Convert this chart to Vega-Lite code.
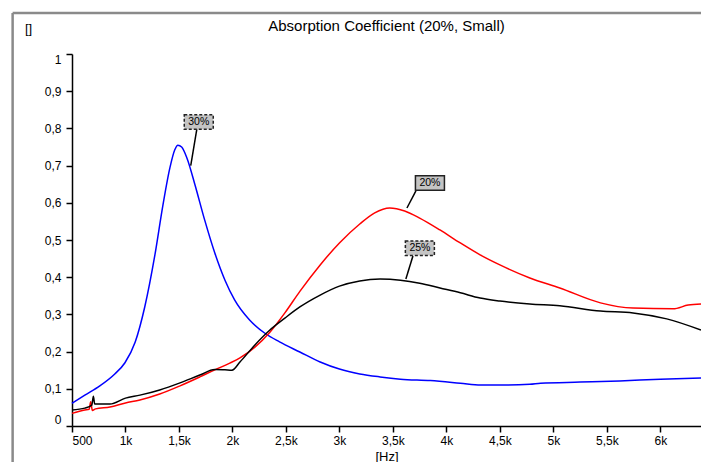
{
  "$schema": "https://vega.github.io/schema/vega-lite/v6.json",
  "width": 629,
  "height": 372,
  "autosize": "none",
  "padding": {"left": 72, "top": 54, "right": 0, "bottom": 36},
  "background": "white",
  "title": {"text": "Absorption Coefficient (20%, Small)", "font": "Liberation Sans", "fontSize": 15, "fontWeight": "normal", "color": "#000000", "anchor": "middle", "offset": -22},
  "config": {
    "view": {"stroke": null},
    "axis": {"domainColor": "#000000", "domainWidth": 1.5, "tickColor": "#000000", "tickWidth": 1.5, "tickSize": 6, "labelFont": "Liberation Sans", "labelFontSize": 12, "labelColor": "#000000", "labelOverlap": false, "grid": false, "titleFont": "Liberation Sans", "titleFontSize": 13, "titleFontWeight": "normal", "titleColor": "#000000"}
  },
  "datasets": {
    "curves": [
      {"s": "30%", "f": 500, "v": 0.061}, {"s": "30%", "f": 620, "v": 0.083}, {"s": "30%", "f": 760, "v": 0.108}, {"s": "30%", "f": 900, "v": 0.140}, {"s": "30%", "f": 995, "v": 0.170}, {"s": "30%", "f": 1090, "v": 0.225}, {"s": "30%", "f": 1180, "v": 0.320}, {"s": "30%", "f": 1275, "v": 0.460}, {"s": "30%", "f": 1350, "v": 0.594}, {"s": "30%", "f": 1415, "v": 0.694}, {"s": "30%", "f": 1460, "v": 0.742}, {"s": "30%", "f": 1490, "v": 0.755}, {"s": "30%", "f": 1525, "v": 0.750}, {"s": "30%", "f": 1575, "v": 0.720}, {"s": "30%", "f": 1650, "v": 0.648}, {"s": "30%", "f": 1740, "v": 0.554}, {"s": "30%", "f": 1835, "v": 0.465}, {"s": "30%", "f": 1930, "v": 0.392}, {"s": "30%", "f": 2020, "v": 0.339}, {"s": "30%", "f": 2160, "v": 0.285}, {"s": "30%", "f": 2300, "v": 0.250}, {"s": "30%", "f": 2440, "v": 0.226}, {"s": "30%", "f": 2630, "v": 0.199}, {"s": "30%", "f": 2820, "v": 0.172}, {"s": "30%", "f": 3000, "v": 0.153}, {"s": "30%", "f": 3190, "v": 0.140}, {"s": "30%", "f": 3380, "v": 0.132}, {"s": "30%", "f": 3570, "v": 0.126}, {"s": "30%", "f": 3850, "v": 0.122}, {"s": "30%", "f": 4130, "v": 0.115}, {"s": "30%", "f": 4320, "v": 0.110}, {"s": "30%", "f": 4500, "v": 0.110}, {"s": "30%", "f": 4780, "v": 0.112}, {"s": "30%", "f": 4880, "v": 0.115}, {"s": "30%", "f": 5250, "v": 0.118}, {"s": "30%", "f": 5620, "v": 0.121}, {"s": "30%", "f": 6000, "v": 0.126}, {"s": "30%", "f": 6380, "v": 0.129},

      {"s": "20%", "f": 500, "v": 0.034}, {"s": "20%", "f": 620, "v": 0.043}, {"s": "20%", "f": 660, "v": 0.045}, {"s": "20%", "f": 675, "v": 0.065}, {"s": "20%", "f": 690, "v": 0.042}, {"s": "20%", "f": 720, "v": 0.046}, {"s": "20%", "f": 855, "v": 0.051}, {"s": "20%", "f": 1000, "v": 0.062}, {"s": "20%", "f": 1135, "v": 0.070}, {"s": "20%", "f": 1320, "v": 0.086}, {"s": "20%", "f": 1510, "v": 0.108}, {"s": "20%", "f": 1695, "v": 0.132}, {"s": "20%", "f": 1835, "v": 0.151}, {"s": "20%", "f": 1975, "v": 0.169}, {"s": "20%", "f": 2070, "v": 0.183}, {"s": "20%", "f": 2210, "v": 0.212}, {"s": "20%", "f": 2350, "v": 0.252}, {"s": "20%", "f": 2490, "v": 0.304}, {"s": "20%", "f": 2630, "v": 0.362}, {"s": "20%", "f": 2820, "v": 0.433}, {"s": "20%", "f": 3000, "v": 0.492}, {"s": "20%", "f": 3190, "v": 0.543}, {"s": "20%", "f": 3330, "v": 0.573}, {"s": "20%", "f": 3470, "v": 0.586}, {"s": "20%", "f": 3610, "v": 0.578}, {"s": "20%", "f": 3750, "v": 0.559}, {"s": "20%", "f": 3940, "v": 0.527}, {"s": "20%", "f": 4130, "v": 0.492}, {"s": "20%", "f": 4315, "v": 0.460}, {"s": "20%", "f": 4500, "v": 0.433}, {"s": "20%", "f": 4780, "v": 0.398}, {"s": "20%", "f": 5060, "v": 0.371}, {"s": "20%", "f": 5440, "v": 0.331}, {"s": "20%", "f": 5745, "v": 0.317}, {"s": "20%", "f": 6120, "v": 0.315}, {"s": "20%", "f": 6260, "v": 0.325}, {"s": "20%", "f": 6380, "v": 0.328},

      {"s": "25%", "f": 500, "v": 0.043}, {"s": "25%", "f": 620, "v": 0.048}, {"s": "25%", "f": 685, "v": 0.056}, {"s": "25%", "f": 700, "v": 0.080}, {"s": "25%", "f": 712, "v": 0.059}, {"s": "25%", "f": 855, "v": 0.059}, {"s": "25%", "f": 1000, "v": 0.075}, {"s": "25%", "f": 1135, "v": 0.083}, {"s": "25%", "f": 1320, "v": 0.097}, {"s": "25%", "f": 1510, "v": 0.116}, {"s": "25%", "f": 1695, "v": 0.137}, {"s": "25%", "f": 1835, "v": 0.152}, {"s": "25%", "f": 1930, "v": 0.151}, {"s": "25%", "f": 1995, "v": 0.150}, {"s": "25%", "f": 2070, "v": 0.172}, {"s": "25%", "f": 2210, "v": 0.218}, {"s": "25%", "f": 2350, "v": 0.258}, {"s": "25%", "f": 2490, "v": 0.290}, {"s": "25%", "f": 2630, "v": 0.320}, {"s": "25%", "f": 2820, "v": 0.352}, {"s": "25%", "f": 3000, "v": 0.376}, {"s": "25%", "f": 3190, "v": 0.390}, {"s": "25%", "f": 3380, "v": 0.395}, {"s": "25%", "f": 3570, "v": 0.392}, {"s": "25%", "f": 3750, "v": 0.384}, {"s": "25%", "f": 3940, "v": 0.371}, {"s": "25%", "f": 4130, "v": 0.358}, {"s": "25%", "f": 4315, "v": 0.344}, {"s": "25%", "f": 4500, "v": 0.336}, {"s": "25%", "f": 4780, "v": 0.328}, {"s": "25%", "f": 5060, "v": 0.323}, {"s": "25%", "f": 5440, "v": 0.309}, {"s": "25%", "f": 5745, "v": 0.304}, {"s": "25%", "f": 6060, "v": 0.288}, {"s": "25%", "f": 6380, "v": 0.258}
    ],
    "labels": [
      {"s": "30%", "lx": 1685, "ly": 0.817, "ax": 1610, "ay": 0.700, "bx": 1667, "by": 0.798},
      {"s": "20%", "lx": 3846, "ly": 0.653, "ax": 3631, "ay": 0.586, "bx": 3715, "by": 0.632},
      {"s": "25%", "lx": 3752, "ly": 0.478, "ax": 3621, "ay": 0.395, "bx": 3687, "by": 0.457}
    ],
    "frame": [{"x0": -55, "x1": 6380, "ytop": 1.11, "ybot": -0.1}]
  },
  "layer": [
    {
      "data": {"name": "curves"},
      "mark": {"type": "line", "strokeWidth": 1.5, "interpolate": "monotone"},
      "encoding": {
        "x": {"field": "f", "type": "quantitative", "scale": {"domain": [500, 6380], "nice": false, "zero": false},
          "axis": {"values": [500, 1000, 1500, 2000, 2500, 3000, 3500, 4000, 4500, 5000, 5500, 6000], "tickCount": 20, "labelExpr": "datum.value < 1000 ? datum.value + '' : replace(format(datum.value / 1000, '.1~f'), '.', ',') + 'k'", "labelPadding": 3, "labelFlush": true, "labelOverlap": false, "title": "[Hz]", "titleY": 30, "titleBaseline": "middle"}},
        "y": {"field": "v", "type": "quantitative", "scale": {"domain": [0, 1], "nice": false, "zero": false},
          "axis": {"values": [0, 0.1, 0.2, 0.3, 0.4, 0.5, 0.6, 0.7, 0.8, 0.9, 1], "tickCount": 20, "labelExpr": "datum.value == 0 ? '0' : datum.value == 1 ? '1' : '0,' + round(datum.value * 10)", "labelPadding": 5, "labelFlush": true, "labelOverlap": false, "labelBound": false, "title": "[]", "titleAngle": 0, "titleX": -44, "titleY": -26, "titleAlign": "center", "titleBaseline": "middle"}},
        "color": {"field": "s", "type": "nominal", "scale": {"domain": ["20%", "25%", "30%"], "range": ["#ff0000", "#000000", "#0000ff"]}, "legend": null},
        "order": {"field": "f", "type": "quantitative"}
      }
    },
    {
      "data": {"name": "frame"},
      "mark": {"type": "rule", "color": "#8a8a8a", "strokeWidth": 2.5},
      "encoding": {
        "x": {"field": "x0", "type": "quantitative"},
        "y": {"field": "ytop", "type": "quantitative"},
        "y2": {"field": "ybot"}
      }
    },
    {
      "data": {"name": "frame"},
      "mark": {"type": "rule", "color": "#8a8a8a", "strokeWidth": 2.5},
      "encoding": {
        "x": {"field": "x0", "type": "quantitative"},
        "x2": {"field": "x1"},
        "y": {"field": "ytop", "type": "quantitative"}
      }
    },
    {
      "data": {"name": "labels"},
      "mark": {"type": "rule", "color": "#000000", "strokeWidth": 1.5},
      "encoding": {
        "x": {"field": "ax", "type": "quantitative"},
        "y": {"field": "ay", "type": "quantitative"},
        "x2": {"field": "bx"},
        "y2": {"field": "by"}
      }
    },
    {
      "data": {"name": "labels"},
      "transform": [{"filter": "datum.s === '20%'"}],
      "mark": {"type": "point", "shape": "M-1,-0.5H1V0.5H-1Z", "size": 841, "filled": true, "fill": "#c4c4c4", "stroke": "#222222", "strokeWidth": 1.5, "opacity": 1},
      "encoding": {
        "x": {"field": "lx", "type": "quantitative"},
        "y": {"field": "ly", "type": "quantitative"}
      }
    },
    {
      "data": {"name": "labels"},
      "transform": [{"filter": "datum.s !== '20%'"}],
      "mark": {"type": "point", "shape": "M-1,-0.5H1V0.5H-1Z", "size": 841, "filled": true, "fill": "#c4c4c4", "stroke": "#222222", "strokeWidth": 1.5, "strokeDash": [3, 2], "opacity": 1},
      "encoding": {
        "x": {"field": "lx", "type": "quantitative"},
        "y": {"field": "ly", "type": "quantitative"}
      }
    },
    {
      "data": {"name": "labels"},
      "mark": {"type": "text", "font": "Liberation Sans", "fontSize": 10.5, "color": "#000000", "align": "center", "baseline": "middle"},
      "encoding": {
        "x": {"field": "lx", "type": "quantitative"},
        "y": {"field": "ly", "type": "quantitative"},
        "text": {"field": "s"}
      }
    }
  ]
}
